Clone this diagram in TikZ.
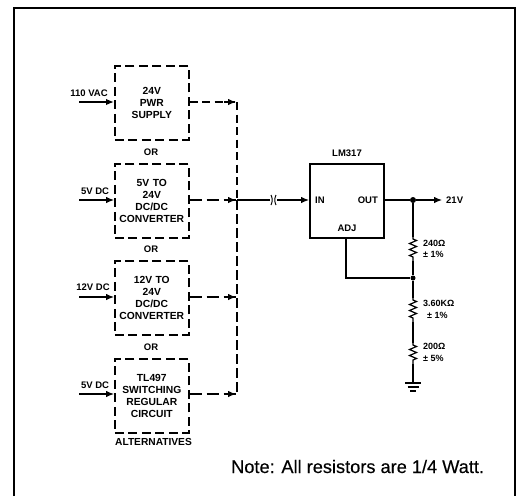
\documentclass[tikz,border=0pt]{standalone}
\usepackage{fontspec}
\setmainfont{Liberation Sans}
\newfontfamily\notefont[FakeBold=0.3]{Liberation Sans}
\usetikzlibrary{arrows.meta,decorations.pathmorphing,calc}
\tikzset{
  x=1pt,y=-1pt,
  altbox/.style={draw=black,line width=1.6pt,dash pattern=on 9pt off 4.5pt,minimum width=74pt,minimum height=74pt,inner sep=0pt,anchor=north west,text width=72pt,align=center,font=\fontsize{10.3}{11.8}\selectfont\bfseries},
  lbl/.style={inner sep=0pt,font=\fontsize{9.5}{11}\selectfont\bfseries},
  vlbl/.style={inner sep=0pt,anchor=west,font=\fontsize{9}{11.5}\selectfont\bfseries},
  wire/.style={line width=1.2pt},
  thickdash/.style={line width=1.7pt,dash pattern=on 8pt off 4.5pt},
  thindash/.style={line width=1.1pt,dash pattern=on 12pt off 5pt},
  tip/.style={-{Latex[length=8pt,width=6.5pt]},line width=1.1pt},
  resist/.style={line width=1.2pt,decorate,decoration={zigzag,amplitude=3.5pt,segment length=6pt,pre length=2pt,post length=2pt}},
  dot/.style={circle,fill=black,inner sep=0pt,minimum size=6pt},
  frameline/.style={line width=2.6pt}
}
\begin{document}
\begin{tikzpicture}
\useasboundingbox (0,0) rectangle (518,496);
% frame
\coordinate (fbl) at (14,496); \coordinate (ftl) at (14,8);
\coordinate (ftr) at (515,8); \coordinate (fbr) at (515,496);
\draw[frameline] (fbl) -- (ftl) -- (ftr) -- (fbr);
% alternative boxes
\node[altbox] (b1) at (114,65) {24V\\PWR\\SUPPLY};
\node[altbox] (b2) at (114,163) {5V TO\\24V\\DC/DC\\CONVERTER};
\node[altbox] (b3) at (114,260) {12V TO\\24V\\DC/DC\\CONVERTER};
\node[altbox] (b4) at (114,358) {TL497\\SWITCHING\\REGULAR\\CIRCUIT};
\node[lbl] (or1) at (151,152) {OR};
\node[lbl] (or2) at (151,249) {OR};
\node[lbl] (or3) at (151,347) {OR};
\node[lbl,font=\fontsize{10.2}{11}\selectfont\bfseries] (alt) at (153.5,442) {ALTERNATIVES};
% inputs
\coordinate (i1) at (79,102); \coordinate (i2) at (79,200);
\coordinate (i3) at (79,297); \coordinate (i4) at (79,394);
\node[lbl] (l1) at (89,93) {110 VAC};
\node[lbl] (l2) at (95,191) {5V DC};
\node[lbl] (l3) at (93,287) {12V DC};
\node[lbl] (l4) at (95,385) {5V DC};
\draw[tip,line width=1.5pt] (i1) -- (i1-|b1.west);
\draw[tip] (i2) -- (i2-|b1.west);
\draw[tip] (i3) -- (i3-|b1.west);
\draw[tip] (i4) -- (i4-|b1.west);
% bus
\coordinate (bus1) at (237,102); \coordinate (bus2) at (237,200);
\coordinate (bus3) at (237,297); \coordinate (bus4) at (237,394);
\draw[thickdash] (bus1) -- (bus2);
\draw[line width=1.2pt,dash pattern=on 10pt off 4pt] (bus2) -- (bus4);
\draw[thickdash] (bus1-|b1.east) -- (bus1);
\draw[thindash] (bus2-|b2.east) -- (bus2);
\draw[thindash] (bus3-|b3.east) -- (bus3);
\draw[thindash] (bus4-|b4.east) -- (bus4);
\foreach \b in {bus1,bus2,bus3,bus4}
  \draw[tip] ($(\b)+(-13,0)$) -- ($(\b)+(-1,0)$);
% regulator
\node[draw=black,line width=1.6pt,minimum width=74pt,minimum height=74pt,inner sep=0pt,anchor=north west] (reg) at (309,163) {};
\node[lbl] (regname) at (347,153) {LM317};
\node[lbl,anchor=west] (pin) at (315,200) {IN};
\node[lbl,anchor=east] (pout) at (378,200) {OUT};
\node[lbl] (padj) at (347,228) {ADJ};
% main line with break
\coordinate (brka) at (270,200); \coordinate (brkb) at (277,200);
\draw[wire] (bus2) -- (brka);
\draw[line width=1pt] ($(brka)+(1,-5)$) to[bend left=25] ($(brka)+(1,5)$);
\draw[line width=1pt] ($(brkb)+(-1,-5)$) to[bend right=25] ($(brkb)+(-1,5)$);
\draw[tip] (brkb) -- (brkb-|reg.west);
% output
\node[dot] (j1) at (413,200) {};
\coordinate (vout) at (442,200);
\node[lbl,anchor=west] (v21) at (446,200) {21V};
\draw[wire] (reg.east|-j1) -- (j1);
\draw[tip] (j1) -- (vout);
% divider
\coordinate (r1a) at (413,237); \coordinate (r1b) at (413,261);
\node[dot,minimum size=5pt] (j2) at (413,278) {};
\coordinate (r2a) at (413,298); \coordinate (r2b) at (413,322);
\coordinate (r3a) at (413,343); \coordinate (r3b) at (413,364);
\coordinate (g) at (413,383);
\draw[wire] (j1) -- (r1a); \draw[resist] (r1a) -- (r1b); \draw[wire] (r1b) -- (j2);
\draw[wire] (j2) -- (r2a); \draw[resist] (r2a) -- (r2b); \draw[wire] (r2b) -- (r3a);
\draw[resist] (r3a) -- (r3b); \draw[wire] (r3b) -- (g);
\coordinate (adjb) at (346,278);
\draw[wire] (346,237) -- (adjb) -- (j2);
% ground
\draw[line width=1.1pt] ($(g)+(-8,0)$) -- ($(g)+(8,0)$);
\draw[line width=1.1pt] ($(g)+(-5.5,4)$) -- ($(g)+(5.5,4)$);
\draw[line width=1.1pt] ($(g)+(-3,8)$) -- ($(g)+(3,8)$);
% values
\node[vlbl,align=left] (v1) at (423,249) {240Ω\\± 1\%};
\node[vlbl,align=left] (v2a) at (423,303) {3.60KΩ};
\node[vlbl] (v2b) at (427,315) {± 1\%};
\node[vlbl,align=left] (v3) at (423,352.5) {200Ω\\± 5\%};
% note
\node[inner sep=0pt,anchor=base west,font=\fontsize{18.2}{20}\selectfont\notefont] (note) at (231,473) {Note: All resistors are 1/4 Watt.};
\end{tikzpicture}
\end{document}
